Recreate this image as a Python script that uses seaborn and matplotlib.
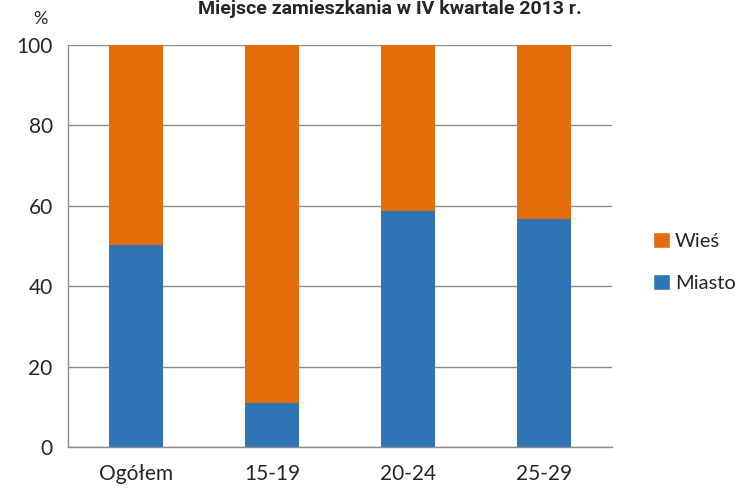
import matplotlib
matplotlib.use("Agg")
import matplotlib.pyplot as plt
import seaborn as sns
import pandas as pd
from matplotlib.patches import Patch

categories = ["Ogółem", "15-19", "20-24", "25-29"]
miasto = [50.2, 10.9, 58.6, 56.6]
wies = [49.8, 89.1, 41.4, 43.4]
yticks = [0, 20, 40, 60, 80, 100]
title = "Miejsce zamieszkania w IV kwartale 2013 r."

blue = "#2E75B6"
orange = "#E46C0A"

sns.set_theme(style="white")
plt.rcParams["font.family"] = ["Lato", "DejaVu Sans"]

df = pd.DataFrame({"cat": categories, "miasto": miasto,
                   "total": [m + w for m, w in zip(miasto, wies)]})

fig = plt.figure(figsize=(7.4, 4.88), dpi=100)
ax = fig.add_axes([68/740, 1 - 447/488, (612-68)/740, (447-45)/488])

sns.barplot(data=df, x="cat", y="total", color=orange, width=0.4,
            saturation=1, ax=ax, order=categories, linewidth=0, edgecolor="none")
sns.barplot(data=df, x="cat", y="miasto", color=blue, width=0.4,
            saturation=1, ax=ax, order=categories, linewidth=0, edgecolor="none")

ax.set_xlim(-0.5, len(categories) - 0.5)
ax.set_ylim(0, 100)
ax.set_yticks(yticks)
ax.set_yticklabels([str(v) for v in yticks], fontsize=15)
ax.yaxis.grid(True, color="#8C8C8C", linewidth=1)
ax.set_axisbelow(True)
ax.set_xlabel("")
ax.set_ylabel("")
for s in ["top", "right"]:
    ax.spines[s].set_visible(False)
for s in ["left", "bottom"]:
    ax.spines[s].set_color("#8C8C8C")
    ax.spines[s].set_linewidth(1)

ax.set_xticks(range(len(categories)))
ax.set_xticklabels(categories, fontsize=15)
ax.tick_params(axis="x", length=0, pad=12)
ax.set_xticks([i - 0.5 for i in range(len(categories) + 1)], minor=True)
ax.tick_params(axis="x", which="minor", length=6, color="#8C8C8C", width=1, direction="out")
ax.tick_params(axis="y", length=5, color="#8C8C8C", width=1, direction="out", pad=6)

fig.text(40/740, 1 - 24/488, "%", fontsize=13, ha="center", va="baseline")
fig.text(390/740, 1 - 14.5/488, title, fontsize=14, fontweight="bold",
         ha="center", va="baseline", family=["Roboto", "DejaVu Sans"])

handles = [Patch(facecolor=orange, label="Wieś"), Patch(facecolor=blue, label="Miasto")]
fig.legend(handles=handles, loc="center left", bbox_to_anchor=(653/740, 1 - 262/488),
           frameon=False, fontsize=14.5, handlelength=0.85, handleheight=0.85,
           handletextpad=0.25, labelspacing=1.2, borderpad=0, borderaxespad=0)

fig.savefig("out.png", dpi=100)
